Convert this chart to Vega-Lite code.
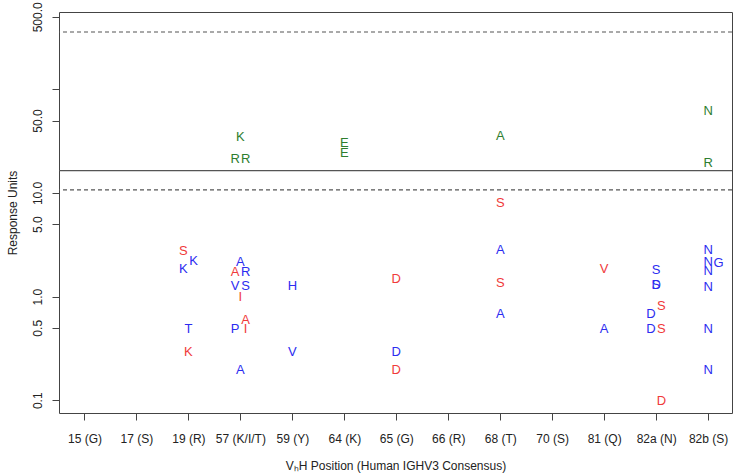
{
  "$schema": "https://vega.github.io/schema/vega-lite/v6.json",
  "width": 673,
  "height": 401,
  "autosize": {"type": "none"},
  "padding": {"left": 59, "top": 12, "right": 4, "bottom": 62},
  "background": "white",
  "config": {
    "view": {"stroke": "#444", "strokeWidth": 1},
    "font": "Liberation Sans",
    "axis": {"grid": false, "domain": false, "tickColor": "#444", "tickSize": 7, "labelColor": "#222", "titleColor": "#222", "labelFont": "Liberation Sans", "titleFont": "Liberation Sans", "labelFontSize": 12, "titleFontSize": 12, "titleFontWeight": "normal"}
  },
  "datasets": {
    "points": [
      {"x": 2.9, "value": 2.76, "letter": "S", "series": "red"},
      {"x": 3.1, "value": 2.22, "letter": "K", "series": "blue"},
      {"x": 2.9, "value": 1.84, "letter": "K", "series": "blue"},
      {"x": 3.0, "value": 0.49, "letter": "T", "series": "blue"},
      {"x": 3.0, "value": 0.291, "letter": "K", "series": "red"},
      {"x": 4.0, "value": 34.3, "letter": "K", "series": "green"},
      {"x": 3.9, "value": 21.1, "letter": "R", "series": "green"},
      {"x": 4.1, "value": 21.1, "letter": "R", "series": "green"},
      {"x": 4.0, "value": 2.17, "letter": "A", "series": "blue"},
      {"x": 3.9, "value": 1.74, "letter": "A", "series": "red"},
      {"x": 4.1, "value": 1.74, "letter": "R", "series": "blue"},
      {"x": 3.9, "value": 1.27, "letter": "V", "series": "blue"},
      {"x": 4.1, "value": 1.27, "letter": "S", "series": "blue"},
      {"x": 4.0, "value": 0.98, "letter": "I", "series": "red"},
      {"x": 4.1, "value": 0.597, "letter": "A", "series": "red"},
      {"x": 3.9, "value": 0.49, "letter": "P", "series": "blue"},
      {"x": 4.1, "value": 0.49, "letter": "I", "series": "red"},
      {"x": 4.0, "value": 0.197, "letter": "A", "series": "blue"},
      {"x": 5.0, "value": 1.27, "letter": "H", "series": "blue"},
      {"x": 5.0, "value": 0.291, "letter": "V", "series": "blue"},
      {"x": 6.0, "value": 30.5, "letter": "E", "series": "green"},
      {"x": 6.0, "value": 24.2, "letter": "E", "series": "green"},
      {"x": 7.0, "value": 1.47, "letter": "D", "series": "red"},
      {"x": 7.0, "value": 0.291, "letter": "D", "series": "blue"},
      {"x": 7.0, "value": 0.197, "letter": "D", "series": "red"},
      {"x": 9.0, "value": 35.3, "letter": "A", "series": "green"},
      {"x": 9.0, "value": 7.94, "letter": "S", "series": "red"},
      {"x": 9.0, "value": 2.82, "letter": "A", "series": "blue"},
      {"x": 9.0, "value": 1.35, "letter": "S", "series": "red"},
      {"x": 9.0, "value": 0.677, "letter": "A", "series": "blue"},
      {"x": 11.0, "value": 1.84, "letter": "V", "series": "red"},
      {"x": 11.0, "value": 0.49, "letter": "A", "series": "blue"},
      {"x": 12.0, "value": 1.81, "letter": "S", "series": "blue"},
      {"x": 12.0, "value": 1.28, "letter": "S", "series": "blue"},
      {"x": 12.0, "value": 1.28, "letter": "D", "series": "blue"},
      {"x": 12.1, "value": 0.82, "letter": "S", "series": "red"},
      {"x": 11.9, "value": 0.677, "letter": "D", "series": "blue"},
      {"x": 11.9, "value": 0.49, "letter": "D", "series": "blue"},
      {"x": 12.1, "value": 0.49, "letter": "S", "series": "red"},
      {"x": 12.1, "value": 0.098, "letter": "D", "series": "red"},
      {"x": 13.0, "value": 62.0, "letter": "N", "series": "green"},
      {"x": 13.0, "value": 19.3, "letter": "R", "series": "green"},
      {"x": 13.0, "value": 2.82, "letter": "N", "series": "blue"},
      {"x": 13.0, "value": 2.17, "letter": "N", "series": "blue"},
      {"x": 13.2, "value": 2.13, "letter": "G", "series": "blue"},
      {"x": 13.0, "value": 1.78, "letter": "N", "series": "blue"},
      {"x": 13.0, "value": 1.25, "letter": "N", "series": "blue"},
      {"x": 13.0, "value": 0.49, "letter": "N", "series": "blue"},
      {"x": 13.0, "value": 0.194, "letter": "N", "series": "blue"}
    ],
    "lines": [
      {"value": 357, "kind": "dashed"},
      {"value": 16.4, "kind": "solid"},
      {"value": 10.7, "kind": "dashed"}
    ]
  },
  "layer": [
    {
      "data": {"name": "lines"},
      "mark": {"type": "rule", "color": "#555", "strokeWidth": 1.2},
      "encoding": {
        "y": {"field": "value", "type": "quantitative", "scale": {"type": "log", "domain": [0.0753, 557]}},
        "strokeDash": {"field": "kind", "type": "nominal", "scale": {"domain": ["dashed", "solid"], "range": [[4, 3], [1, 0]]}, "legend": null}
      }
    },
    {
      "data": {"name": "points"},
      "mark": {"type": "text", "fontSize": 13, "font": "Liberation Sans", "baseline": "middle", "align": "center"},
      "encoding": {
        "x": {
          "field": "x", "type": "quantitative",
          "scale": {"domain": [0.51, 13.46], "nice": false, "zero": false},
          "axis": {
            "values": [1, 2, 3, 4, 5, 6, 7, 8, 9, 10, 11, 12, 13],
            "labelExpr": "['15 (G)','17 (S)','19 (R)','57 (K/I/T)','59 (Y)','64 (K)','65 (G)','66 (R)','68 (T)','70 (S)','81 (Q)','82a (N)','82b (S)'][datum.value - 1]",
            "labelPadding": 13,
            "labelOverlap": false,
            "labelFlush": false,
            "title": "VₕH Position (Human IGHV3 Consensus)",
            "titlePadding": 16
          }
        },
        "y": {
          "field": "value", "type": "quantitative",
          "scale": {"type": "log", "domain": [0.0753, 557]},
          "axis": {
            "values": [0.1, 0.5, 1, 5, 10, 50, 100, 500],
            "labelExpr": "datum.value == 100 ? '' : format(datum.value, '.1f')",
            "labelAngle": 270,
            "labelAlign": "center",
            "labelBaseline": "bottom",
            "labelPadding": 8,
            "labelOverlap": false,
            "labelFlush": false,
            "title": "Response Units",
            "titlePadding": 12
          }
        },
        "text": {"field": "letter", "type": "nominal"},
        "color": {"field": "series", "type": "nominal", "scale": {"domain": ["blue", "red", "green"], "range": ["#2c2cf0", "#f03a3a", "#2e7d2e"]}, "legend": null}
      }
    }
  ]
}
